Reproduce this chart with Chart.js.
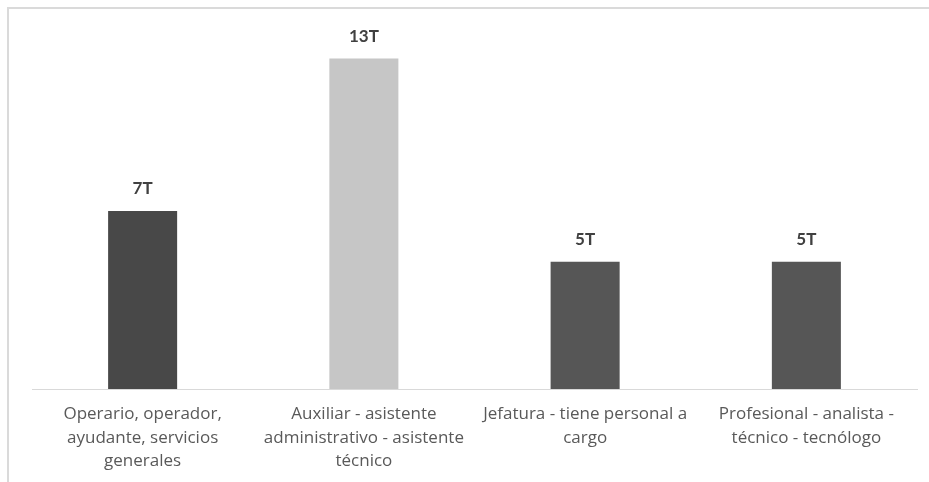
<!DOCTYPE html>
<html>
<head>
<meta charset="utf-8">
<script src="https://cdn.jsdelivr.net/npm/chart.js@4"></script>
<style>
  html, body { margin: 0; padding: 0; background: #fff; overflow: hidden; }
  #marco { position: absolute; left: 7px; top: 7px; width: 940px; height: 490px; border: 2px solid #dadada; }
  #zona { position: absolute; left: 0; top: 0; width: 929px; height: 482px; }
</style>
</head>
<body>
<div id="marco"></div>
<div id="zona"><canvas id="graficoCargos"></canvas></div>
<script>
// cargos y cantidad por cargo
var cargos = [
  ["Operario, operador,", "ayudante, servicios", "generales"],
  ["Auxiliar - asistente", "administrativo - asistente", "técnico"],
  ["Jefatura - tiene personal a", "cargo"],
  ["Profesional - analista -", "técnico - tecnólogo"]
];
var cantidades = [7, 13, 5, 5];
var sufijo = "T";
var coloresBarras = ["#484848", "#c6c6c6", "#565656", "#565656"];

// etiqueta encima de cada barra
const etiquetasBarras = {
  id: 'etiquetasBarras',
  afterDatasetsDraw: function (chart) {
    var ctx = chart.ctx;
    var meta = chart.getDatasetMeta(0);
    ctx.save();
    ctx.font = "bold 17px Lato";
    ctx.fillStyle = "#404040";
    ctx.textAlign = "center";
    ctx.textBaseline = "middle";
    meta.data.forEach(function (barra, i) {
      ctx.fillText(chart.data.datasets[0].data[i] + sufijo, barra.x, barra.y - 22);
    });
    ctx.restore();
  }
};

const ctxCargos = document.getElementById('graficoCargos').getContext('2d');

new Chart(ctxCargos, {
  type: 'bar',
  data: {
    labels: cargos,
    datasets: [{
      data: cantidades,
      backgroundColor: coloresBarras,
      borderWidth: 0,
      barPercentage: 0.312,
      categoryPercentage: 1
    }]
  },
  options: {
    responsive: true,
    maintainAspectRatio: false,
    animation: false,
    layout: { padding: { top: 33, left: 32, right: 12, bottom: 0 } },
    plugins: {
      legend: { display: false },
      tooltip: { enabled: false }
    },
    scales: {
      x: {
        grid: { display: false, drawTicks: false },
        border: { display: true, color: '#d9d9d9', width: 1 },
        ticks: {
          color: '#595959',
          font: { family: 'Open Sans', size: 17, weight: 500, lineHeight: 1.37 },
          padding: 14,
          maxRotation: 0,
          autoSkip: false
        },
        afterFit: function (scale) { scale.height = 93; }
      },
      y: {
        display: false,
        min: 0,
        max: 14
      }
    }
  },
  plugins: [etiquetasBarras]
});
</script>
</body>
</html>
